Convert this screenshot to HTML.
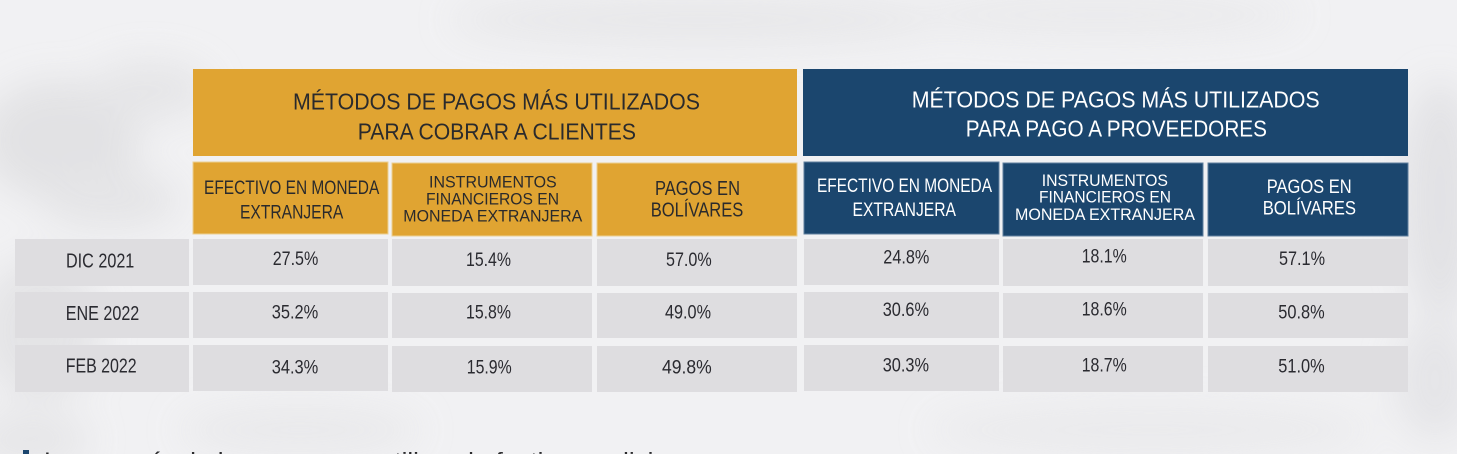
<!DOCTYPE html>
<html>
<head>
<meta charset="utf-8">
<style>
html,body{margin:0;padding:0;background:#f1f1f3;}
body{width:1457px;height:454px;overflow:hidden;}
svg{display:block;}
text{font-family:"Liberation Sans",Arial,sans-serif;}
.hd{font-size:23.5px;fill:#2a2a2c;}
.hw{font-size:23.5px;fill:#ffffff;}
.sd{fill:#2a2a2c;}
.sw{fill:#ffffff;}
.lb{font-size:20px;fill:#2a2a30;}
.v{font-size:19.5px;fill:#2a2a30;}
</style>
</head>
<body>
<svg width="1457" height="454" viewBox="0 0 1457 454" xmlns="http://www.w3.org/2000/svg">
  <defs>
    <filter id="blur" x="-50%" y="-50%" width="200%" height="200%">
      <feGaussianBlur stdDeviation="18"/>
    </filter>
  </defs>
  <!-- background -->
  <rect x="0" y="0" width="1457" height="454" fill="#f1f1f3"/>
  <g filter="url(#blur)" opacity="0.85">
    <ellipse cx="60" cy="140" rx="80" ry="60" fill="#e0e0e2"/>
    <ellipse cx="150" cy="90" rx="60" ry="30" fill="#e4e4e6"/>
    <ellipse cx="110" cy="200" rx="70" ry="30" fill="#e3e3e5"/>
    <ellipse cx="40" cy="330" rx="60" ry="70" fill="#e2e2e4"/>
    <ellipse cx="30" cy="440" rx="60" ry="30" fill="#e5e5e7"/>
    <ellipse cx="1440" cy="200" rx="40" ry="120" fill="#e0e0e3"/>
    <ellipse cx="1435" cy="380" rx="40" ry="60" fill="#e3e3e6"/>
    <ellipse cx="700" cy="20" rx="250" ry="25" fill="#e6e6e8"/>
    <ellipse cx="1100" cy="15" rx="200" ry="20" fill="#e8e8ea"/>
    <ellipse cx="300" cy="430" rx="120" ry="25" fill="#e8e8ea"/>
    <ellipse cx="1150" cy="430" rx="220" ry="25" fill="#e9e9eb"/>
  </g>

  <!-- main headers -->
  <rect x="193" y="69" width="604" height="87" fill="#e0a432"/>
  <rect x="803" y="69" width="605" height="87" fill="#1b466e"/>
  <text class="hd" x="293" y="109.3" textLength="407" lengthAdjust="spacingAndGlyphs">MÉTODOS DE PAGOS MÁS UTILIZADOS</text>
  <text class="hd" x="357.7" y="139.3" textLength="278.3" lengthAdjust="spacingAndGlyphs">PARA COBRAR A CLIENTES</text>
  <text class="hw" x="911.7" y="107.7" textLength="408" lengthAdjust="spacingAndGlyphs">MÉTODOS DE PAGOS MÁS UTILIZADOS</text>
  <text class="hw" x="965.7" y="136.7" textLength="301.3" lengthAdjust="spacingAndGlyphs">PARA PAGO A PROVEEDORES</text>

  <!-- sub headers gold -->
  <rect x="193" y="162" width="195" height="72" fill="#e0a432" stroke="#eccf92" stroke-width="1"/>
  <rect x="392" y="163" width="200" height="73" fill="#e0a432" stroke="#eccf92" stroke-width="1"/>
  <rect x="597" y="163" width="200" height="73" fill="#e0a432" stroke="#eccf92" stroke-width="1"/>
  <!-- sub headers blue -->
  <rect x="804" y="162" width="195" height="72" fill="#1b466e" stroke="#5f7f9e" stroke-width="1"/>
  <rect x="1003" y="163" width="200" height="73" fill="#1b466e" stroke="#5f7f9e" stroke-width="1"/>
  <rect x="1208" y="163" width="200" height="73" fill="#1b466e" stroke="#5f7f9e" stroke-width="1"/>

  <!-- gold sub text -->
  <text class="sd" style="font-size:19.5px" x="204" y="194" textLength="175.3" lengthAdjust="spacingAndGlyphs">EFECTIVO EN MONEDA</text>
  <text class="sd" style="font-size:19.5px" x="240" y="218.3" textLength="103.3" lengthAdjust="spacingAndGlyphs">EXTRANJERA</text>
  <text class="sd" style="font-size:17px" x="429" y="187.3" textLength="127.7" lengthAdjust="spacingAndGlyphs">INSTRUMENTOS</text>
  <text class="sd" style="font-size:17px" x="426" y="204.3" textLength="133" lengthAdjust="spacingAndGlyphs">FINANCIEROS EN</text>
  <text class="sd" style="font-size:17px" x="403.3" y="221.7" textLength="179" lengthAdjust="spacingAndGlyphs">MONEDA EXTRANJERA</text>
  <text class="sd" style="font-size:20px" x="655" y="195" textLength="85" lengthAdjust="spacingAndGlyphs">PAGOS EN</text>
  <text class="sd" style="font-size:20px" x="650.7" y="216.7" textLength="92.6" lengthAdjust="spacingAndGlyphs">BOLÍVARES</text>

  <!-- blue sub text -->
  <text class="sw" style="font-size:19.5px" x="817" y="192" textLength="175" lengthAdjust="spacingAndGlyphs">EFECTIVO EN MONEDA</text>
  <text class="sw" style="font-size:19.5px" x="852.5" y="216" textLength="103.5" lengthAdjust="spacingAndGlyphs">EXTRANJERA</text>
  <text class="sw" style="font-size:17px" x="1041.7" y="186" textLength="126.3" lengthAdjust="spacingAndGlyphs">INSTRUMENTOS</text>
  <text class="sw" style="font-size:17px" x="1039" y="202.7" textLength="132" lengthAdjust="spacingAndGlyphs">FINANCIEROS EN</text>
  <text class="sw" style="font-size:17px" x="1015" y="220" textLength="180" lengthAdjust="spacingAndGlyphs">MONEDA EXTRANJERA</text>
  <text class="sw" style="font-size:19.5px" x="1266.7" y="193" textLength="85" lengthAdjust="spacingAndGlyphs">PAGOS EN</text>
  <text class="sw" style="font-size:19.5px" x="1262.7" y="214.3" textLength="93.3" lengthAdjust="spacingAndGlyphs">BOLÍVARES</text>

  <!-- data cells -->
  <g fill="#dedde0">
    <rect x="15" y="239" width="174" height="47"/>
    <rect x="193" y="239" width="195" height="46"/>
    <rect x="392" y="239" width="200" height="47"/>
    <rect x="597" y="239" width="200" height="47"/>
    <rect x="804" y="239" width="195" height="46"/>
    <rect x="1003" y="239" width="200" height="47"/>
    <rect x="1208" y="239" width="200" height="47"/>

    <rect x="15" y="292" width="174" height="46"/>
    <rect x="193" y="292" width="195" height="46"/>
    <rect x="392" y="293" width="200" height="45"/>
    <rect x="597" y="293" width="200" height="45"/>
    <rect x="804" y="292" width="195" height="46"/>
    <rect x="1003" y="293" width="200" height="45"/>
    <rect x="1208" y="293" width="200" height="45"/>

    <rect x="15" y="345" width="174" height="47"/>
    <rect x="193" y="345" width="195" height="46"/>
    <rect x="392" y="346" width="200" height="46"/>
    <rect x="597" y="346" width="200" height="46"/>
    <rect x="804" y="345" width="195" height="46"/>
    <rect x="1003" y="346" width="200" height="46"/>
    <rect x="1208" y="346" width="200" height="46"/>
  </g>

  <!-- row labels -->
  <text class="lb" x="66" y="267.3" textLength="68.3" lengthAdjust="spacingAndGlyphs">DIC 2021</text>
  <text class="lb" x="65.7" y="320" textLength="73.6" lengthAdjust="spacingAndGlyphs">ENE 2022</text>
  <text class="lb" x="65.7" y="372.3" textLength="71" lengthAdjust="spacingAndGlyphs">FEB 2022</text>

  <!-- values row 1 -->
  <text class="v" x="272.7" y="265" textLength="45.6" lengthAdjust="spacingAndGlyphs">27.5%</text>
  <text class="v" x="466" y="266" textLength="45" lengthAdjust="spacingAndGlyphs">15.4%</text>
  <text class="v" x="666" y="266" textLength="45.7" lengthAdjust="spacingAndGlyphs">57.0%</text>
  <text class="v" x="883.3" y="263.3" textLength="46" lengthAdjust="spacingAndGlyphs">24.8%</text>
  <text class="v" x="1081.7" y="262.7" textLength="45" lengthAdjust="spacingAndGlyphs">18.1%</text>
  <text class="v" x="1279" y="265" textLength="46" lengthAdjust="spacingAndGlyphs">57.1%</text>

  <!-- values row 2 -->
  <text class="v" x="271.7" y="318.3" textLength="46.6" lengthAdjust="spacingAndGlyphs">35.2%</text>
  <text class="v" x="466" y="318.7" textLength="45" lengthAdjust="spacingAndGlyphs">15.8%</text>
  <text class="v" x="665" y="318.7" textLength="46" lengthAdjust="spacingAndGlyphs">49.0%</text>
  <text class="v" x="882.7" y="316" textLength="46.3" lengthAdjust="spacingAndGlyphs">30.6%</text>
  <text class="v" x="1081.7" y="315.7" textLength="45" lengthAdjust="spacingAndGlyphs">18.6%</text>
  <text class="v" x="1278.3" y="318.3" textLength="46.4" lengthAdjust="spacingAndGlyphs">50.8%</text>

  <!-- values row 3 -->
  <text class="v" x="271.7" y="373.3" textLength="46.6" lengthAdjust="spacingAndGlyphs">34.3%</text>
  <text class="v" x="466.8" y="373.3" textLength="44.9" lengthAdjust="spacingAndGlyphs">15.9%</text>
  <text class="v" x="662" y="373.3" textLength="49.7" lengthAdjust="spacingAndGlyphs">49.8%</text>
  <text class="v" x="882.7" y="371.7" textLength="46.3" lengthAdjust="spacingAndGlyphs">30.3%</text>
  <text class="v" x="1081.7" y="371.7" textLength="45" lengthAdjust="spacingAndGlyphs">18.7%</text>
  <text class="v" x="1278.3" y="372.7" textLength="46.4" lengthAdjust="spacingAndGlyphs">51.0%</text>

  <!-- bottom cut-off paragraph -->
  <rect x="23" y="450" width="6" height="4" fill="#1b466e"/>
  <text x="44" y="468" style="font-size:22px;fill:#2a2a2c" textLength="650" lengthAdjust="spacingAndGlyphs">La mayoría de las empresas utiliza el efectivo en divisas</text>
</svg>
</body>
</html>
